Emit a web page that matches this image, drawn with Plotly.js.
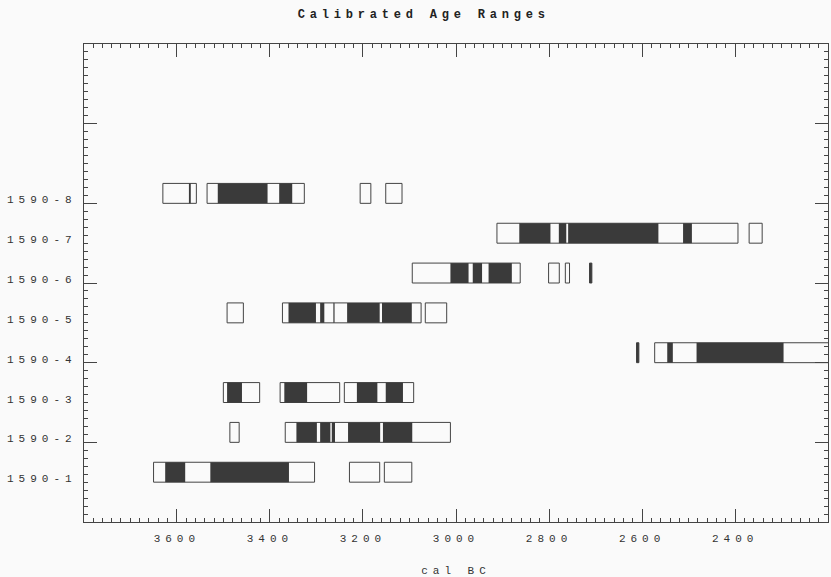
<!DOCTYPE html>
<html>
<head>
<meta charset="utf-8">
<script src="https://cdn.plot.ly/plotly-3.0.1.min.js"></script>
<style>
  html, body { margin: 0; padding: 0; background: #fafafa; }
  #chart { width: 831px; height: 577px; }
  .xtick text, text.xtitle, .annotation-text { letter-spacing: 5px; }
  text.gtitle { letter-spacing: 4.8px; }
</style>
</head>
<body>
<div id="chart"></div>
<script>
// Samples (categories) and their vertical positions
const samples = ['1590-1', '1590-2', '1590-3', '1590-4', '1590-5', '1590-6', '1590-7', '1590-8'];
const samplePos = [1, 2, 3, 4, 5, 6, 7, 8];

// 95% ranges (open boxes), [from, to] in cal BC
const s1_95 = [[3650, 3304], [3229, 3164], [3154, 3095]];
const s2_95 = [[3486, 3466], [3367, 3012]];
const s3_95 = [[3500, 3422], [3378, 3250], [3240, 3091]];
const s4_95 = [[2612, 2607], [2573, 2150]];
const s5_95 = [[3492, 3457], [3373, 3262], [3262, 3075], [3066, 3020]];
const s6_95 = [[3094, 2862], [2801, 2778], [2765, 2756], [2713, 2708]];
const s7_95 = [[2912, 2394], [2370, 2342]];
const s8_95 = [[3630, 3558], [3535, 3326], [3206, 3183], [3151, 3116]];

// 68% ranges (filled bars), [from, to] in cal BC
const s1_68 = [[3625, 3582], [3528, 3359]];
const s2_68 = [[3343, 3299], [3292, 3270], [3267, 3260], [3232, 3163], [3157, 3094]];
const s3_68 = [[3492, 3460], [3369, 3320], [3213, 3169], [3151, 3114]];
const s4_68 = [[2612, 2607], [2546, 2534], [2483, 2296]];
const s5_68 = [[3360, 3301], [3292, 3283], [3234, 3164], [3159, 3095]];
const s6_68 = [[3012, 2973], [2964, 2944], [2930, 2880], [2713, 2708]];
const s7_68 = [[2864, 2797], [2779, 2763], [2759, 2565], [2512, 2493]];
const s8_68 = [[3574, 3570], [3512, 3405], [3380, 3352]];

// Axis tick values
const xTickVals = [3600, 3400, 3200, 3000, 2800, 2600, 2400];

const ranges95 = [s1_95, s2_95, s3_95, s4_95, s5_95, s6_95, s7_95, s8_95];
const ranges68 = [s1_68, s2_68, s3_68, s4_68, s5_68, s6_68, s7_68, s8_68];

function build(rangeLists) {
  const base = [], len = [], y = [];
  rangeLists.forEach((list, i) => {
    list.forEach(([a, b]) => {
      base.push(a);
      len.push(b - a);
      y.push(samplePos[i] + 0.25);
    });
  });
  return { base, len, y };
}

const d95 = build(ranges95);
const d68 = build(ranges68);

const lineCol = '#444';
const traces = [
  {
    type: 'bar', orientation: 'h',
    base: d95.base, x: d95.len, y: d95.y,
    width: 0.5,
    marker: { color: '#fafafa', line: { color: lineCol, width: 1 } },
    hoverinfo: 'skip', showlegend: false
  },
  {
    type: 'bar', orientation: 'h',
    base: d68.base, x: d68.len, y: d68.y,
    width: 0.5,
    marker: { color: '#3a3a3a', line: { color: '#3a3a3a', width: 0 } },
    hoverinfo: 'skip', showlegend: false
  }
];

const tickFont = { family: 'Liberation Mono, DejaVu Sans Mono, monospace', size: 11, color: '#333' };

// Sample labels on the left, at each sample's position
const labelAnnotations = samples.map((s, i) => ({
  text: s, x: 0, xref: 'paper', xanchor: 'right', xshift: -5,
  y: samplePos[i], yref: 'y', yanchor: 'middle', yshift: 3,
  showarrow: false, font: tickFont
}));

const layout = {
  width: 831, height: 577,
  margin: { l: 84, r: 3, t: 44, b: 55 },
  paper_bgcolor: '#fafafa',
  plot_bgcolor: '#fafafa',
  barmode: 'overlay',
  showlegend: false,
  title: {
    text: 'Calibrated Age Ranges',
    font: { family: 'Liberation Mono, monospace', size: 12, color: '#222', weight: 'bold' },
    x: 0.51, xref: 'container', xanchor: 'center',
    y: 0.976, yref: 'container', yanchor: 'middle'
  },
  xaxis: {
    range: [3799.5, 2200.5],
    tickvals: xTickVals,
    ticktext: xTickVals.map(String),
    ticks: 'inside', ticklen: 13, tickwidth: 1, tickcolor: lineCol,
    minor: { tickmode: 'linear', tick0: 0, dtick: 20, ticks: 'inside', ticklen: 4, tickwidth: 1, tickcolor: lineCol, showgrid: false },
    mirror: 'allticks', showline: true, linecolor: lineCol, linewidth: 1.2,
    showgrid: false, zeroline: false,
    tickfont: tickFont,
    ticklabelstandoff: 6,
    title: { text: 'cal BC', font: tickFont, standoff: 21 },
    automargin: false
  },
  yaxis: {
    range: [0, 12],
    tickmode: 'linear', tick0: 0, dtick: 2,
    ticks: 'inside', ticklen: 13, tickwidth: 1, tickcolor: lineCol,
    minor: { tickmode: 'linear', tick0: 0, dtick: 0.2, ticks: 'inside', ticklen: 4, tickwidth: 1, tickcolor: lineCol, showgrid: false },
    mirror: 'allticks', showline: true, linecolor: lineCol, linewidth: 1.2,
    showticklabels: false, showgrid: false, zeroline: false,
    automargin: false
  },
  annotations: labelAnnotations
};

Plotly.newPlot('chart', traces, layout, { displayModeBar: false, staticPlot: true });
</script>
</body>
</html>
